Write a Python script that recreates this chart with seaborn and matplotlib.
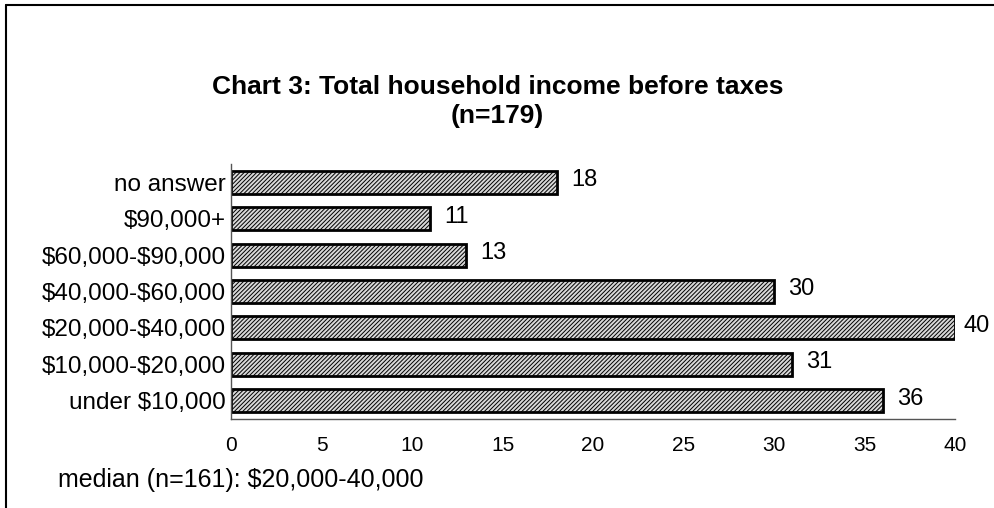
import matplotlib
matplotlib.use("Agg")
import matplotlib.pyplot as plt
import seaborn as sns
import pandas as pd
from matplotlib.lines import Line2D

categories = ["no answer", "$90,000+", "$60,000-$90,000", "$40,000-$60,000",
              "$20,000-$40,000", "$10,000-$20,000", "under $10,000"]
counts = [18, 11, 13, 30, 40, 31, 36]
x_ticks = [0, 5, 10, 15, 20, 25, 30, 35, 40]
title_text = "Chart 3: Total household income before taxes\n(n=179)"
note_text = "median (n=161): $20,000-40,000"

sns.set_theme(style="white")
plt.rcParams['font.family'] = ['Liberation Sans', 'DejaVu Sans']
plt.rcParams['text.parse_math'] = False
plt.rcParams['hatch.linewidth'] = 0.7
plt.rcParams['hatch.color'] = 'black'

df = pd.DataFrame({"category": categories, "count": counts})

fig = plt.figure(figsize=(9.95, 5.08), dpi=100)
ax = fig.add_axes([0.2322, 0.1752, 0.7276, 0.502])

sns.barplot(data=df, x="count", y="category", orient="h", ax=ax,
            color="white", width=0.63, edgecolor="black", linewidth=2.0)
for p in ax.patches:
    p.set_hatch("////////")
    p.set_facecolor("#d8d8d8")

ax.set_xlim(0, 40)
ax.set_ylim(6.5, -0.5)
ax.set_xticks(x_ticks)
ax.set_xticklabels([str(t) for t in x_ticks], fontsize=15)
ax.tick_params(axis='x', direction='out', length=4, width=1, color='#555555', pad=8, colors='black')
ax.tick_params(axis='y', length=0, pad=4, labelsize=17.5, colors='black')
ax.set_xlabel("")
ax.set_ylabel("")
for s in ["top", "right"]:
    ax.spines[s].set_visible(False)
for s in ["left", "bottom"]:
    ax.spines[s].set_color('#555555')
    ax.spines[s].set_linewidth(1.0)

for i, v in enumerate(counts):
    off = 8 if v == max(counts) else 14
    ax.annotate(str(v), xy=(v, i), xytext=(off, 2), textcoords="offset pixels",
                ha="left", va="center", fontsize=17, color="black")

fig.text(0.50, 0.80, title_text, ha="center", va="center", fontsize=19,
         fontweight="bold", linespacing=1.25, color="black")
fig.text(0.058, 0.055, note_text, ha="left", va="center", fontsize=18, color="black")

fig.add_artist(Line2D([0.006, 0.006], [0.0, 0.99], transform=fig.transFigure, color='black', linewidth=1.5))
fig.add_artist(Line2D([0.006, 1.0], [0.99, 0.99], transform=fig.transFigure, color='black', linewidth=1.5))

fig.savefig("out.png", dpi=100)
